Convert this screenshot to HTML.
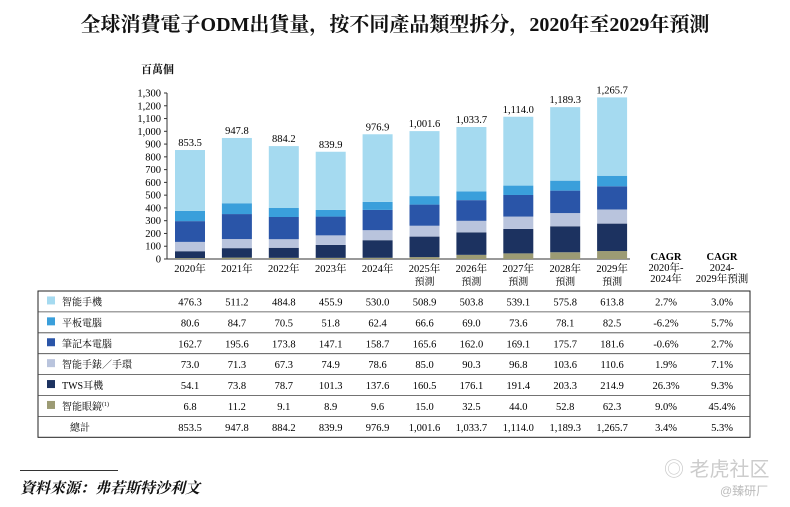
<!DOCTYPE html>
<html><head><meta charset="utf-8">
<style>
body{margin:0;width:790px;height:507px;background:#fff;font-family:"Liberation Serif","Noto Serif CJK SC",serif;position:relative;overflow:hidden;color:#111}
.t{position:absolute;white-space:nowrap}
</style></head><body>
<div class="t" style="left:0;width:790px;text-align:center;top:8px;font-size:20px;font-weight:bold;font-family:'Liberation Serif','Noto Serif CJK SC',serif">全球消費電子ODM出貨量，按不同產品類型拆分，2020年至2029年預測</div>
<div class="t" style="left:141px;top:61px;font-size:11px;font-weight:bold">百萬個</div>
<svg id="chart" width="790" height="507" style="position:absolute;left:0;top:0"></svg>
<div style="position:absolute;left:20px;top:470px;width:98px;border-top:1px solid #333"></div>
<div class="t" style="left:20px;top:477px;font-size:15px;font-style:italic;font-weight:bold">資料來源：弗若斯特沙利文</div>
<div class="t" style="left:664px;top:453px;font-size:20px;color:#ccc;font-family:'Liberation Sans','Noto Sans CJK SC',sans-serif">◎ 老虎社区</div>
<div class="t" style="left:720px;top:482px;font-size:12px;color:#bbb;font-family:'Liberation Sans','Noto Sans CJK SC',sans-serif">@臻研厂</div>
<script>
const years=["2020年","2021年","2022年","2023年","2024年","2025年","2026年","2027年","2028年","2029年"];
const forecast=[false,false,false,false,false,true,true,true,true,true];
const seriesNames=["智能手機","平板電腦","筆記本電腦","智能手錶／手環","TWS耳機","智能眼鏡"];
const smartphone=[476.3,511.2,484.8,455.9,530.0,508.9,503.8,539.1,575.8,613.8];
const tablet=[80.6,84.7,70.5,51.8,62.4,66.6,69.0,73.6,78.1,82.5];
const laptop=[162.7,195.6,173.8,147.1,158.7,165.6,162.0,169.1,175.7,181.6];
const watch=[73.0,71.3,67.3,74.9,78.6,85.0,90.3,96.8,103.6,110.6];
const tws=[54.1,73.8,78.7,101.3,137.6,160.5,176.1,191.4,203.3,214.9];
const glasses=[6.8,11.2,9.1,8.9,9.6,15.0,32.5,44.0,52.8,62.3];
const totals=[853.5,947.8,884.2,839.9,976.9,1001.6,1033.7,1114.0,1189.3,1265.7];
const cagr1=["2.7%","-6.2%","-0.6%","1.9%","26.3%","9.0%","3.4%"];
const cagr2=["3.0%","5.7%","2.7%","7.1%","9.3%","45.4%","5.3%"];
const yTicks=[0,100,200,300,400,500,600,700,800,900,1000,1100,1200,1300];
const colors=["#a5daf0","#3a9fdb","#2a55a8","#b9c4dd","#1c3260","#9c9b74"];
const NS="http://www.w3.org/2000/svg";
const svg=document.getElementById('chart');
const y0=259,y1=93,vmax=1300;
const yS=v=>y0-(v/vmax)*(y0-y1);
const xS=i=>190+i*46.9;
const bw=30;
function el(t,a){const e=document.createElementNS(NS,t);for(const k in a)e.setAttribute(k,a[k]);svg.appendChild(e);return e;}
function fmt(v){return v.toLocaleString('en-US',{minimumFractionDigits:1,maximumFractionDigits:1});}
let ax=el('line',{x1:167,x2:167,y1:y1,y2:y0,stroke:'#333','stroke-width':1});


let bx=el('line',{x1:167,x2:630,y1:y0,y2:y0,stroke:'#333','stroke-width':1});


yTicks.forEach(v=>{
  el('line',{x1:164,x2:167,y1:yS(v),y2:yS(v),stroke:'#333'});
  const t=el('text',{x:161,y:yS(v)+3.5,'text-anchor':'end','font-size':'10.5','font-family':'Liberation Serif'});
  t.textContent=v.toLocaleString('en-US');
  
  
});
const stacks=[glasses,tws,watch,laptop,tablet,smartphone];
const stackColors=[colors[5],colors[4],colors[3],colors[2],colors[1],colors[0]];
years.forEach((yr,i)=>{
  let base=0;
  stacks.forEach((s,k)=>{
    const r=el('rect',{x:xS(i)-bw/2,y:yS(base+s[i]),width:bw,height:yS(base)-yS(base+s[i]),fill:stackColors[k]});
    
    
    base+=s[i];
  });
  const t=el('text',{x:xS(i),y:yS(totals[i])-4,'text-anchor':'middle','font-size':'10.5','font-family':'Liberation Serif'});
  t.textContent=fmt(totals[i]);
  
  
  const l=el('text',{x:xS(i),y:272,'text-anchor':'middle','font-size':'10.5','font-family':'Liberation Serif, Noto Serif CJK SC, serif'});
  l.textContent=yr;
  
  
  if(forecast[i]){const f=el('text',{x:xS(i),y:285,'text-anchor':'middle','font-size':'10','font-family':'Noto Serif CJK SC, serif'});f.textContent='預測';
    
    }
});
[[666,["CAGR","2020年-","2024年"]],[722,["CAGR","2024-","2029年預測"]]].forEach(([x,ls])=>{
  ls.forEach((s,j)=>{const t=el('text',{x:x,y:260+j*11,'text-anchor':'middle','font-size':'10.5','font-weight':j==0?'bold':'normal','font-family':'Liberation Serif, Noto Serif CJK SC, serif'});t.textContent=s;
    
    });
});
const tx0=38,tx1=750,ty0=291,rh=20.9;
const rows=[smartphone,tablet,laptop,watch,tws,glasses,totals];
const box=el('rect',{x:tx0,y:ty0,width:tx1-tx0,height:rh*7,fill:'none',stroke:'#222','stroke-width':1});


for(let r=1;r<7;r++)el('line',{x1:tx0,x2:tx1,y1:ty0+r*rh,y2:ty0+r*rh,stroke:'#444','stroke-width':0.8});
rows.forEach((row,r)=>{
  const cy=ty0+r*rh+rh/2+4;
  if(r<6){
    const sq=el('rect',{x:47,y:cy-9,width:8,height:8,fill:colors[r]});
    
    
    const t=el('text',{x:62,y:cy,'font-size':'10','font-family':'Liberation Serif, Noto Serif CJK SC, serif'});
    t.textContent=seriesNames[r];
    if(r==5){const s=document.createElementNS(NS,'tspan');s.setAttribute('dy','-4');s.setAttribute('font-size','6');s.textContent='(1)';t.appendChild(s);}
    
    
  } else {
    const t=el('text',{x:70,y:cy,'font-size':'10','font-family':'Noto Serif CJK SC, serif'});t.textContent='總計';
    
    
  }
  row.forEach((v,i)=>{
    const t=el('text',{x:xS(i),y:cy,'text-anchor':'middle','font-size':'10.5','font-family':'Liberation Serif'});
    t.textContent=fmt(v);
    
    
  });
  [[666,cagr1[r]],[722,cagr2[r]]].forEach(([x,s])=>{
    const t=el('text',{x:x,y:cy,'text-anchor':'middle','font-size':'10.5','font-family':'Liberation Serif'});
    t.textContent=s;
    
    
  });
});
</script>
</body></html>
